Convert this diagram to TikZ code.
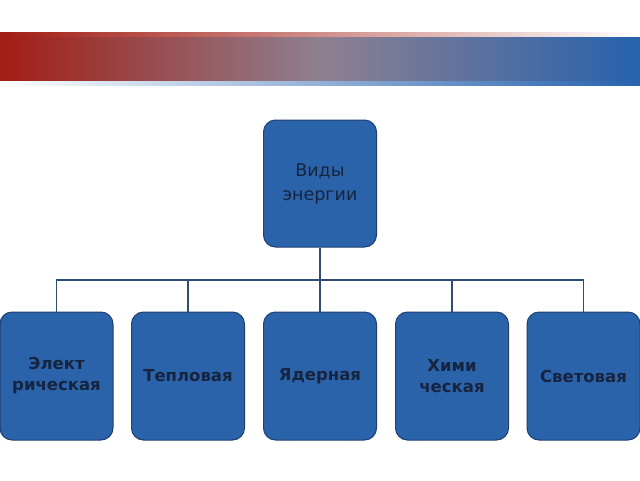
\documentclass[tikz,border=0pt]{standalone}
\usepackage{fontspec}
\setmainfont{DejaVu Sans}
\definecolor{boxfill}{HTML}{2B63AA}
\definecolor{boxline}{HTML}{1E3F70}
\definecolor{boxtext}{HTML}{16243F}
\definecolor{barred}{HTML}{A21D14}
\definecolor{barmid}{HTML}{8F8090}
\definecolor{barblue}{HTML}{2662AD}
\tikzset{
  kind/.style={draw=boxline, line width=1pt, fill=boxfill, rounded corners=12pt,
    minimum width=113pt, minimum height=128pt, text=boxtext, align=center,
    font=\fontsize{16.5}{21}\selectfont\bfseries},
  link/.style={draw=boxline!80!gray, line width=1.2pt}
}
\begin{document}
\begin{tikzpicture}[x=1pt,y=-1pt]
	\useasboundingbox (0,0) rectangle (640,480);
	
	\shade[left color=barred, right color=white] (0,32) rectangle (640,37);
	\shade[left color=white, right color=barblue] (0,80) rectangle (640,85);
	\shade[left color=barred, right color=barblue, middle color=barmid] (0,37) rectangle (640,80);
	
	\node[kind, minimum height=127pt, font=\fontsize{17.5}{24}\selectfont] (root) at (320,183.5) {Виды\\энергии};
	\node[kind] (elec) at (56.5,376) {Элект\\рическая};
	\node[kind] (heat) at (188,376) {Тепловая};
	\node[kind] (nucl) at (320,376) {Ядерная};
	\node[kind] (chem) at (452,376) {Хими\\ческая};
	\node[kind] (light) at (583.5,376) {Световая};
	
	\coordinate (bus) at (320,280);
	\draw[link] (root.south) -- (bus);
	\foreach \n in {elec,heat,nucl,chem,light}
		\draw[link] (bus) -| (\n.north);
	
\end{tikzpicture}
\end{document}
